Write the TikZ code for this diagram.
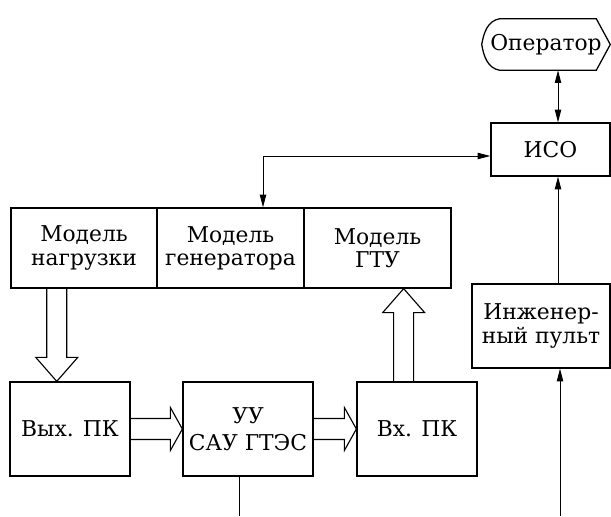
\documentclass[tikz,border=0pt]{standalone}
\usepackage{fontspec}
\setmainfont{DejaVu Serif}
\usetikzlibrary{arrows.meta, calc}

\begin{document}
\begin{tikzpicture}[
    box/.style={rectangle, draw=black, line width=0.9pt, inner sep=0pt, text centered, align=center, font=\fontsize{15.5}{16.5}\selectfont},
    opshape/.style={rectangle, draw=none, minimum width=3.2cm, minimum height=1.275cm, inner sep=0pt, font=\fontsize{15.5}{16.5}\selectfont},
    outline/.style={draw=black, line width=0.9pt},
    hollow/.style={draw=black, line width=0.8pt, line join=miter},
    arrow/.style={-{Triangle[length=9pt, width=4.5pt]}, line width=0.7pt},
    biarrow/.style={{Triangle[length=9pt, width=4.5pt]}-{Triangle[length=9pt, width=4.5pt]}, line width=0.7pt},
    wire/.style={line width=0.7pt}
]
    \useasboundingbox (0,0) rectangle (15.275,12.9);

    % Operator and ISO
    \node[opshape] (op) at (13.65, 11.7875) {Оператор};
    \draw[outline] ([xshift=0.45cm]op.north west) to[out=190, in=80] (op.west)
        to[out=-80, in=170] ([xshift=0.45cm]op.south west)
        -- ([xshift=-0.35cm]op.south east) -- (op.east)
        -- ([xshift=-0.35cm]op.north east) -- cycle;
    \node[box, minimum width=2.975cm, minimum height=1.325cm] (iso) at (13.7625, 9.1625) {ИСО};

    % Models
    \node[box, minimum width=3.65cm, minimum height=2.0cm] (load) at (2.1, 6.7) {Модель\\нагрузки};
    \node[box, minimum width=3.675cm, minimum height=2.0cm] (gen) at (5.7625, 6.7) {Модель\\генератора};
    \node[box, minimum width=3.675cm, minimum height=2.0cm] (gtu) at (9.4375, 6.7) {Модель\\ГТУ};

    % Engineer console
    \node[box, minimum width=3.45cm, minimum height=2.1cm] (eng) at (13.525, 4.75) {Инженер-\\ный пульт};

    % Converters and control unit
    \node[box, minimum width=3.0cm, minimum height=2.35cm] (out) at (1.75, 2.175) {Вых. ПК};
    \node[box, minimum width=3.25cm, minimum height=2.35cm, font=\fontsize{15.5}{19}\selectfont] (uu) at (6.2, 2.175) {УУ\\САУ ГТЭС};
    \node[box, minimum width=3.0cm, minimum height=2.35cm] (in) at (10.425, 2.175) {Вх. ПК};

    % Free ends
    \coordinate (bend) at (6.575, 9.0);
    \coordinate (rail) at (13.95, 0);
    \coordinate (engin) at (14.0, 0);
    \coordinate (uuend) at (5.975, 0);

    % Thin connectors
    \draw[biarrow] (op.south -| rail) -- (iso.north -| rail);
    \draw[arrow] (eng.north -| rail) -- (iso.south -| rail);
    \draw[arrow] (engin) -- (eng.south -| engin);
    \draw[biarrow] (gen.north -| bend) |- (bend -| iso.west);
    \draw[wire] (uu.south -| uuend) -- (uuend);

    % Hollow arrows
    \draw[hollow] let \p1=($(load.south west)!0.315!(load.south east)$), \p2=(out.north) in
        (\x1-0.25cm,\y1) -- (\x1-0.25cm,\y2+0.6cm) -- (\x1-0.525cm,\y2+0.6cm) -- (\x1,\y2)
        -- (\x1+0.525cm,\y2+0.6cm) -- (\x1+0.25cm,\y2+0.6cm) -- (\x1+0.25cm,\y1);
    \draw[hollow] let \p1=($(in.north west)!0.39!(in.north east)$), \p2=(gtu.south) in
        (\x1-0.25cm,\y1) -- (\x1-0.25cm,\y2-0.6cm) -- (\x1-0.525cm,\y2-0.6cm) -- (\x1,\y2)
        -- (\x1+0.525cm,\y2-0.6cm) -- (\x1+0.25cm,\y2-0.6cm) -- (\x1+0.25cm,\y1);
    \draw[hollow] let \p1=(out.east), \p2=(uu.west) in
        (\x1,\y1+0.2625cm) -- (\x2-0.3cm,\y1+0.2625cm) -- (\x2-0.3cm,\y1+0.5375cm) -- (\x2,\y1)
        -- (\x2-0.3cm,\y1-0.5375cm) -- (\x2-0.3cm,\y1-0.2625cm) -- (\x1,\y1-0.2625cm);
    \draw[hollow] let \p1=(uu.east), \p2=(in.west) in
        (\x1,\y1+0.2625cm) -- (\x2-0.3cm,\y1+0.2625cm) -- (\x2-0.3cm,\y1+0.5375cm) -- (\x2,\y1)
        -- (\x2-0.3cm,\y1-0.5375cm) -- (\x2-0.3cm,\y1-0.2625cm) -- (\x1,\y1-0.2625cm);

\end{tikzpicture}
\end{document}
